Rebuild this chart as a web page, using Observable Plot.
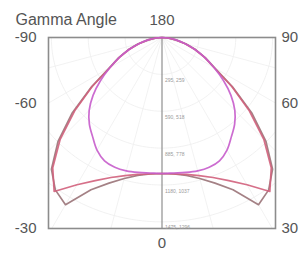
<!DOCTYPE html>
<html>
<head>
<meta charset="utf-8">
<script src="https://cdn.jsdelivr.net/npm/d3@7"></script>
<script src="https://cdn.jsdelivr.net/npm/@observablehq/plot@0.6"></script>
<style>
  html, body { margin: 0; padding: 0; background: #fff; }
  svg { display: block; }
</style>
</head>
<body>
<div id="chart"></div>
<script>
// Gamma angles (deg from downward vertical), one half; mirrored for negative side
const angles = [0, 5, 10, 15, 20, 25, 30, 35, 40, 45, 50, 55, 60, 65, 70, 75, 80, 85, 90];
// Candela values
const seriesInner = [1088, 1088, 1096, 1104, 1104, 1088, 1040, 968, 904, 824, 720, 600, 480, 376, 280, 192, 112, 48, 0];
const seriesOuterA = [1088, 1096, 1120, 1168, 1240, 1344, 1544, 1488, 1376, 1176, 936, 688, 488, 384, 288, 200, 120, 56, 0];
const seriesOuterB = [1088, 1096, 1112, 1144, 1192, 1264, 1360, 1504, 1360, 1152, 912, 680, 480, 376, 280, 192, 112, 48, 0];
const seriesNames = ["Outer A", "Outer B", "Inner"];
const seriesColors = ["#9a7378", "#d2607c", "#c65ccb"];
const seriesCurves = ["linear", "linear", "catmull-rom"];

// Radius labels and angle labels
const cdValues = [295, 590, 885, 1180, 1475];
const cdLabels = ["295, 259", "590, 518", "885, 778", "1180, 1037", "1475, 1296"];
const angleLabelValues = [-90, -60, -30, 90, 60, 30];
const topLabel = "180";
const bottomLabel = "0";
const axisTitle = "Gamma Angle";

const XMAX = 908, YMAX = 1528;
const rad = d => d * Math.PI / 180;

function buildRows(name, vals) {
  const rows = [];
  for (let i = angles.length - 1; i >= 0; i--) rows.push({name, a: -angles[i], r: vals[i]});
  for (let i = 1; i < angles.length; i++) rows.push({name, a: angles[i], r: vals[i]});
  return rows.map(d => ({...d, x: d.r * Math.sin(rad(d.a)), y: d.r * Math.cos(rad(d.a))}));
}
const curveData = [seriesOuterA, seriesOuterB, seriesInner].map((v, i) => buildRows(seriesNames[i], v));

// polar grid geometry
const gridCircles = [];
for (let k = 1; k <= 6; k++) {
  for (let a = -90; a <= 90; a += 2) {
    gridCircles.push({k, x: 295 * k * Math.sin(rad(a)), y: 295 * k * Math.cos(rad(a))});
  }
}
const spokes = [];
for (let a = -75; a <= 75; a += 15) {
  if (a === 0) continue;
  spokes.push({x2: 3000 * Math.sin(rad(a)), y2: 3000 * Math.cos(rad(a))});
}

const angleRows = angleLabelValues.map(a => {
  const t = Math.abs(a);
  const y = t === 90 ? 0 : Math.min(XMAX / Math.tan(rad(t)), YMAX);
  return {a, text: String(a), x: a < 0 ? -XMAX : XMAX, y, left: a < 0};
});

const font = "Liberation Sans, Arial, Helvetica, sans-serif";

const chart = Plot.plot({
  width: 301,
  height: 255,
  marginLeft: 48,
  marginRight: 26,
  marginTop: 37,
  marginBottom: 27,
  x: {domain: [-XMAX, XMAX], axis: null},
  y: {domain: [0, YMAX], reverse: true, axis: null},
  style: {fontFamily: font, background: "#fff"},
  marks: [
    Plot.line(gridCircles, {x: "x", y: "y", z: "k", stroke: "#eeeeee", strokeWidth: 0.8, clip: true}),
    Plot.link(spokes, {x1: 0, y1: 0, x2: "x2", y2: "y2", stroke: "#efefef", strokeWidth: 0.8, clip: true}),
    Plot.ruleX([0], {stroke: "#8f8f8f", strokeWidth: 1.2}),
    Plot.frame({stroke: "#8c8c8c", strokeWidth: 1.6}),
    ...curveData.map((rows, i) => Plot.line(rows, {
      x: "x", y: "y", stroke: seriesColors[i], strokeWidth: 1.7, strokeOpacity: 0.9, curve: seriesCurves[i]
    })),
    Plot.text(cdValues, {
      x: 0, y: d => d, text: (d, i) => cdLabels[i], dx: 3, dy: 6,
      textAnchor: "start", fontSize: 5, fill: "#9a9a9a"
    }),
    Plot.text(angleRows.filter(d => d.left), {
      x: "x", y: "y", text: "text", dx: -12, textAnchor: "end", fontSize: 15, fill: "#555"
    }),
    Plot.text(angleRows.filter(d => !d.left), {
      x: "x", y: "y", text: "text", dx: 6, textAnchor: "start", fontSize: 15, fill: "#555"
    }),
    Plot.text([topLabel], {x: 0, y: 0, text: d => d, dy: -17, fontSize: 15, fill: "#555"}),
    Plot.text([bottomLabel], {x: 0, y: YMAX, text: d => d, dy: 15, fontSize: 15, fill: "#555"}),
    Plot.text([axisTitle], {x: -XMAX, y: 0, text: d => d, dx: -33, dy: -18, textAnchor: "start", fontSize: 16, fill: "#555"})
  ]
});
document.getElementById("chart").appendChild(chart);
</script>
</body>
</html>
